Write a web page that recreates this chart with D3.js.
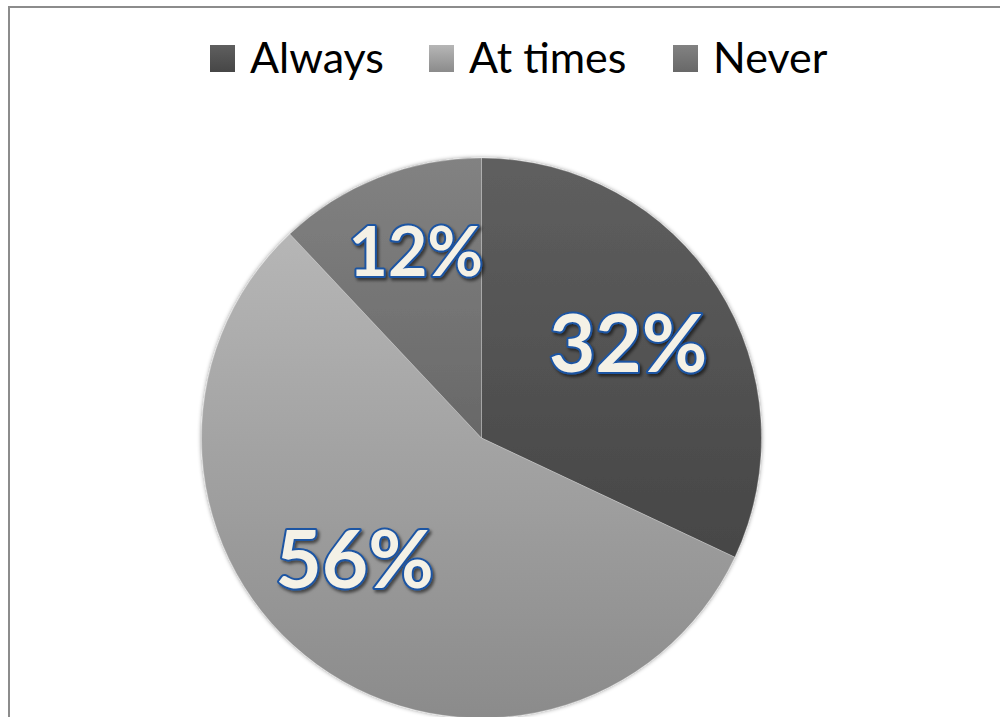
<!DOCTYPE html>
<html>
<head>
<meta charset="utf-8">
<script src="https://cdn.jsdelivr.net/npm/d3@7"></script>
<style>
  html, body { margin: 0; padding: 0; background: #fff; }
  svg { display: block; }
</style>
</head>
<body>
<svg id="chart" width="1000" height="717"></svg>
<script>
// Survey answers and their shares (percent)
const categories = ["Always", "At times", "Never"];
const shares = [32, 56, 12];
const shareLabels = ["32%", "56%", "12%"];

// Gray gradient stops per answer (top colour, bottom colour)
const sliceTop = ["#5f5f5f", "#b6b6b6", "#828282"];
const sliceBottom = ["#464646", "#8b8b8b", "#686868"];

const W = 1000, H = 717;
const svg = d3.select("#chart");
const defs = svg.append("defs");

// Frame around the chart area
svg.append("rect")
  .attr("x", 9).attr("y", 7)
  .attr("width", W + 20).attr("height", H + 20)
  .attr("fill", "#fff")
  .attr("stroke", "#8c8c8c")
  .attr("stroke-width", 2);

categories.forEach((c, i) => {
  const g = defs.append("linearGradient")
    .attr("id", "grad" + i)
    .attr("x1", 0).attr("y1", 0).attr("x2", 0).attr("y2", 1);
  g.append("stop").attr("offset", "0%").attr("stop-color", sliceTop[i]);
  g.append("stop").attr("offset", "100%").attr("stop-color", sliceBottom[i]);
});

// soft edge shadow for the pie
const sh = defs.append("filter").attr("id", "pieShadow")
  .attr("x", "-10%").attr("y", "-10%").attr("width", "120%").attr("height", "120%");
sh.append("feDropShadow").attr("dx", 0).attr("dy", 0)
  .attr("stdDeviation", 2.2).attr("flood-color", "#000").attr("flood-opacity", 0.45);

// text shadow for the data labels
const ts = defs.append("filter").attr("id", "labelShadow")
  .attr("x", "-20%").attr("y", "-20%").attr("width", "140%").attr("height", "140%");
ts.append("feDropShadow").attr("dx", 2).attr("dy", 2.5)
  .attr("stdDeviation", 1.6).attr("flood-color", "#000").attr("flood-opacity", 0.55);

// Pie geometry
const cx = 481.5, cy = 438, R = 280;
const pie = d3.pie().sort(null).value(d => d.value);
const data = categories.map((c, i) => ({ key: c, value: shares[i], label: shareLabels[i], idx: i }));
const arcs = pie(data);
const arc = d3.arc().innerRadius(0).outerRadius(R);

const gPie = svg.append("g").attr("transform", `translate(${cx},${cy})`);
gPie.append("g").attr("filter", "url(#pieShadow)")
  .selectAll("path")
  .data(arcs)
  .join("path")
  .attr("d", arc)
  .attr("fill", d => `url(#grad${d.data.idx})`)
  .attr("stroke", "rgba(255,255,255,0.25)")
  .attr("stroke-width", 1);

// Data labels: radius fraction and angular nudge (degrees) per slice, plus font size
const labelRadius = [0.62, 0.63, 0.70];
const labelNudge = [0, 10, 2];
const labelSize = [80, 80, 68];

gPie.selectAll("text.val")
  .data(arcs)
  .join("text")
  .attr("class", "val")
  .each(function(d) {
    const i = d.data.idx;
    const a = (d.startAngle + d.endAngle) / 2 + labelNudge[i] * Math.PI / 180;
    const r = R * labelRadius[i];
    d3.select(this)
      .attr("x", r * Math.sin(a))
      .attr("y", -r * Math.cos(a))
      .attr("font-size", labelSize[i]);
  })
  .attr("text-anchor", "middle")
  .attr("dominant-baseline", "central")
  .attr("dy", "-0.05em")
  .attr("font-family", "Lato, 'Open Sans', sans-serif")
  .attr("font-weight", 700)
  .attr("fill", "#f4f1e6")
  .attr("stroke", "#1c54a3")
  .attr("stroke-width", 4)
  .attr("paint-order", "stroke")
  .attr("stroke-linejoin", "round")
  .attr("filter", "url(#labelShadow)")
  .text(d => d.data.label);

// Legend across the top
const legend = svg.append("g");
const legendX = [210, 429, 673];
const items = legend.selectAll("g.item")
  .data(data)
  .join("g")
  .attr("class", "item")
  .attr("transform", (d, i) => `translate(${legendX[i]},0)`);
items.append("rect")
  .attr("x", 0).attr("y", 45)
  .attr("width", 25).attr("height", 27)
  .attr("fill", d => `url(#grad${d.idx})`);
items.append("text")
  .attr("x", 40).attr("y", 73)
  .attr("font-family", "Lato, 'Open Sans', sans-serif")
  .attr("font-size", 43)
  .attr("fill", "#000")
  .text(d => d.key);
</script>
</body>
</html>
